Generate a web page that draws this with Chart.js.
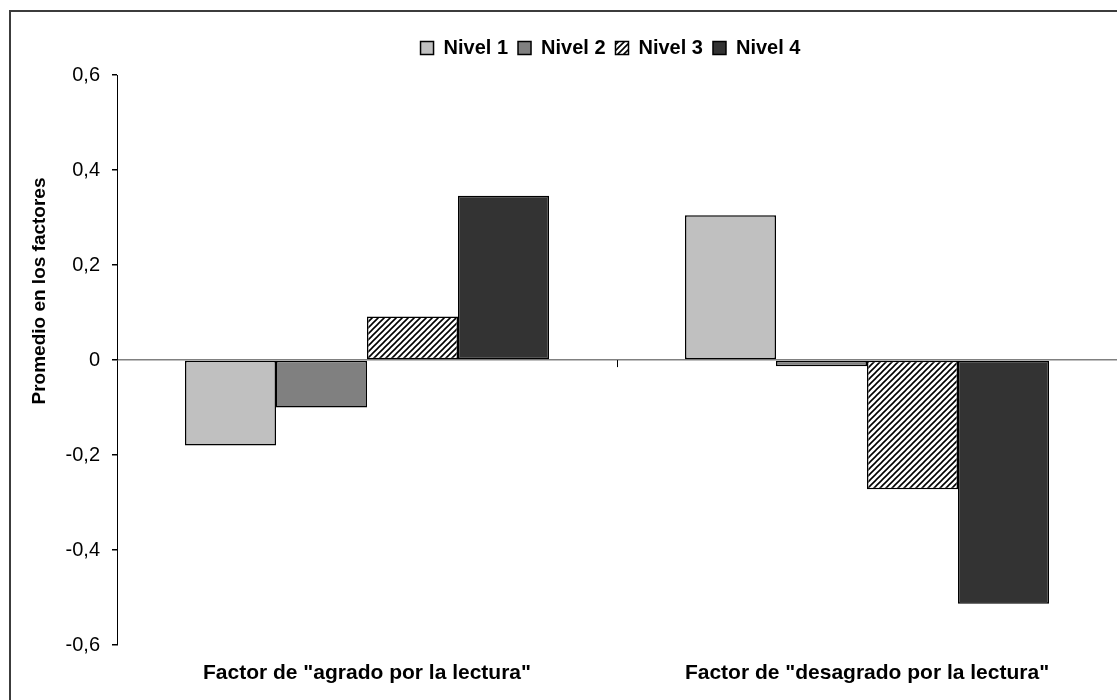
<!DOCTYPE html>
<html>
<head>
<meta charset="utf-8">
<script src="https://cdn.jsdelivr.net/npm/chart.js@4"></script>
<style>
  html, body { margin: 0; background: #fff; }
  #wrap { width: 1117px; height: 700px; }
</style>
</head>
<body>
<div id="wrap"><canvas id="bar-chart" width="1117" height="700"></canvas></div>
<script>
// data
const categories = ['Factor de "agrado por la lectura"', 'Factor de "desagrado por la lectura"'];
const levelNames = ['Nivel 1', 'Nivel 2', 'Nivel 3', 'Nivel 4'];
const nivel1 = [-0.18, 0.305];
const nivel2 = [-0.10, -0.013];
const nivel3 = [0.092, -0.272];
const nivel4 = [0.346, -0.513];
const yTicks = [-0.6, -0.4, -0.2, 0, 0.2, 0.4, 0.6];
const yTitle = 'Promedio en los factores';

// diagonal hatch for Nivel 3
function makeHatch() {
  const c = document.createElement('canvas');
  c.width = 6; c.height = 6;
  const g = c.getContext('2d');
  g.fillStyle = '#fff';
  g.fillRect(0, 0, 6, 6);
  g.strokeStyle = '#000';
  g.lineWidth = 1.6;
  g.beginPath();
  g.moveTo(0, 6); g.lineTo(6, 0);
  g.moveTo(-1, 1); g.lineTo(1, -1);
  g.moveTo(5, 7); g.lineTo(7, 5);
  g.stroke();
  return g.createPattern(c, 'repeat');
}

// frame, y title, legend offset and category tick on the zero line
const extras = {
  id: 'extras',
  afterLayout(chart) {
    // legend sits centred over the plot, not the canvas
    chart.legend.left += 52;
    chart.legend.right += 52;
  },
  afterDatasetsDraw(chart) {
    const ctx = chart.ctx;
    const x = chart.scales.x, y = chart.scales.y;
    const y0 = y.getPixelForValue(0);
    ctx.save();
    ctx.strokeStyle = '#000';
    ctx.lineWidth = 1;
    for (let i = 0; i < categories.length - 1; i++) {
      const xm = Math.round((x.getPixelForValue(i) + x.getPixelForValue(i + 1)) / 2) + 0.5;
      ctx.beginPath();
      ctx.moveTo(xm, y0);
      ctx.lineTo(xm, y0 + 7);
      ctx.stroke();
    }
    ctx.restore();
  },
  afterDraw(chart) {
    const ctx = chart.ctx;
    ctx.save();
    ctx.fillStyle = '#000';
    ctx.font = 'bold 19px "Liberation Sans", Arial, sans-serif';
    ctx.textAlign = 'center';
    ctx.textBaseline = 'middle';
    ctx.translate(40, 291);
    ctx.rotate(-Math.PI / 2);
    ctx.fillText(yTitle, 0, 0);
    ctx.restore();

    ctx.save();
    ctx.strokeStyle = '#3c3c3c';
    ctx.lineWidth = 2;
    ctx.strokeRect(10, 11, 1300, 900);
    ctx.restore();
  }
};

const fills = ['#c0c0c0', '#808080', makeHatch(), '#333333'];
const series = [nivel1, nivel2, nivel3, nivel4];

const barConfig = {
  type: 'bar',
  data: {
    labels: categories,
    datasets: series.map((vals, i) => ({
      label: levelNames[i],
      data: vals,
      backgroundColor: fills[i],
      borderColor: '#000',
      borderWidth: 1.5,
      borderSkipped: false,
      barPercentage: 1,
      categoryPercentage: 0.728,
    })),
  },
  options: {
    responsive: false,
    animation: false,
    layout: { padding: { top: 28, left: 0, right: 0, bottom: 0 } },
    plugins: {
      title: { display: false },
      // spacer between legend and plot
      subtitle: {
        display: true,
        text: ' ',
        weight: 500,
        font: { size: 1 },
        padding: { top: 3, bottom: 3 },
      },
      tooltip: { enabled: false },
      legend: {
        position: 'top',
        labels: {
          boxWidth: 13,
          boxHeight: 13,
          padding: 10,
          color: '#000',
          font: { family: 'Liberation Sans, Arial, sans-serif', size: 20, weight: 'bold' },
        },
      },
    },
    scales: {
      x: {
        grid: { display: false },
        border: { display: false },
        ticks: {
          color: '#000',
          padding: 8,
          maxRotation: 0,
          font: { family: 'Liberation Sans, Arial, sans-serif', size: 21, weight: 'bold' },
        },
        afterFit(scale) { scale.height = 55; },
      },
      y: {
        min: -0.6,
        max: 0.6,
        afterBuildTicks(scale) { scale.ticks = yTicks.map(v => ({ value: v })); },
        grid: {
          color: ctx => (ctx.tick && ctx.tick.value === 0 ? '#808080' : 'rgba(0,0,0,0)'),
          tickColor: '#000',
          tickLength: 5,
          lineWidth: 1.5,
        },
        border: { display: true, color: '#000', width: 1 },
        ticks: {
          color: '#000',
          padding: 12,
          font: { family: 'Liberation Sans, Arial, sans-serif', size: 20 },
          callback: v => (v === 0 ? '0' : v.toFixed(1).replace('.', ',')),
        },
        title: { display: false },
        afterFit(scale) { scale.width = 117; },
      },
    },
  },
  plugins: [extras],
};

const barChart = document.querySelector('#bar-chart');
new Chart(barChart, barConfig);
</script>
</body>
</html>
